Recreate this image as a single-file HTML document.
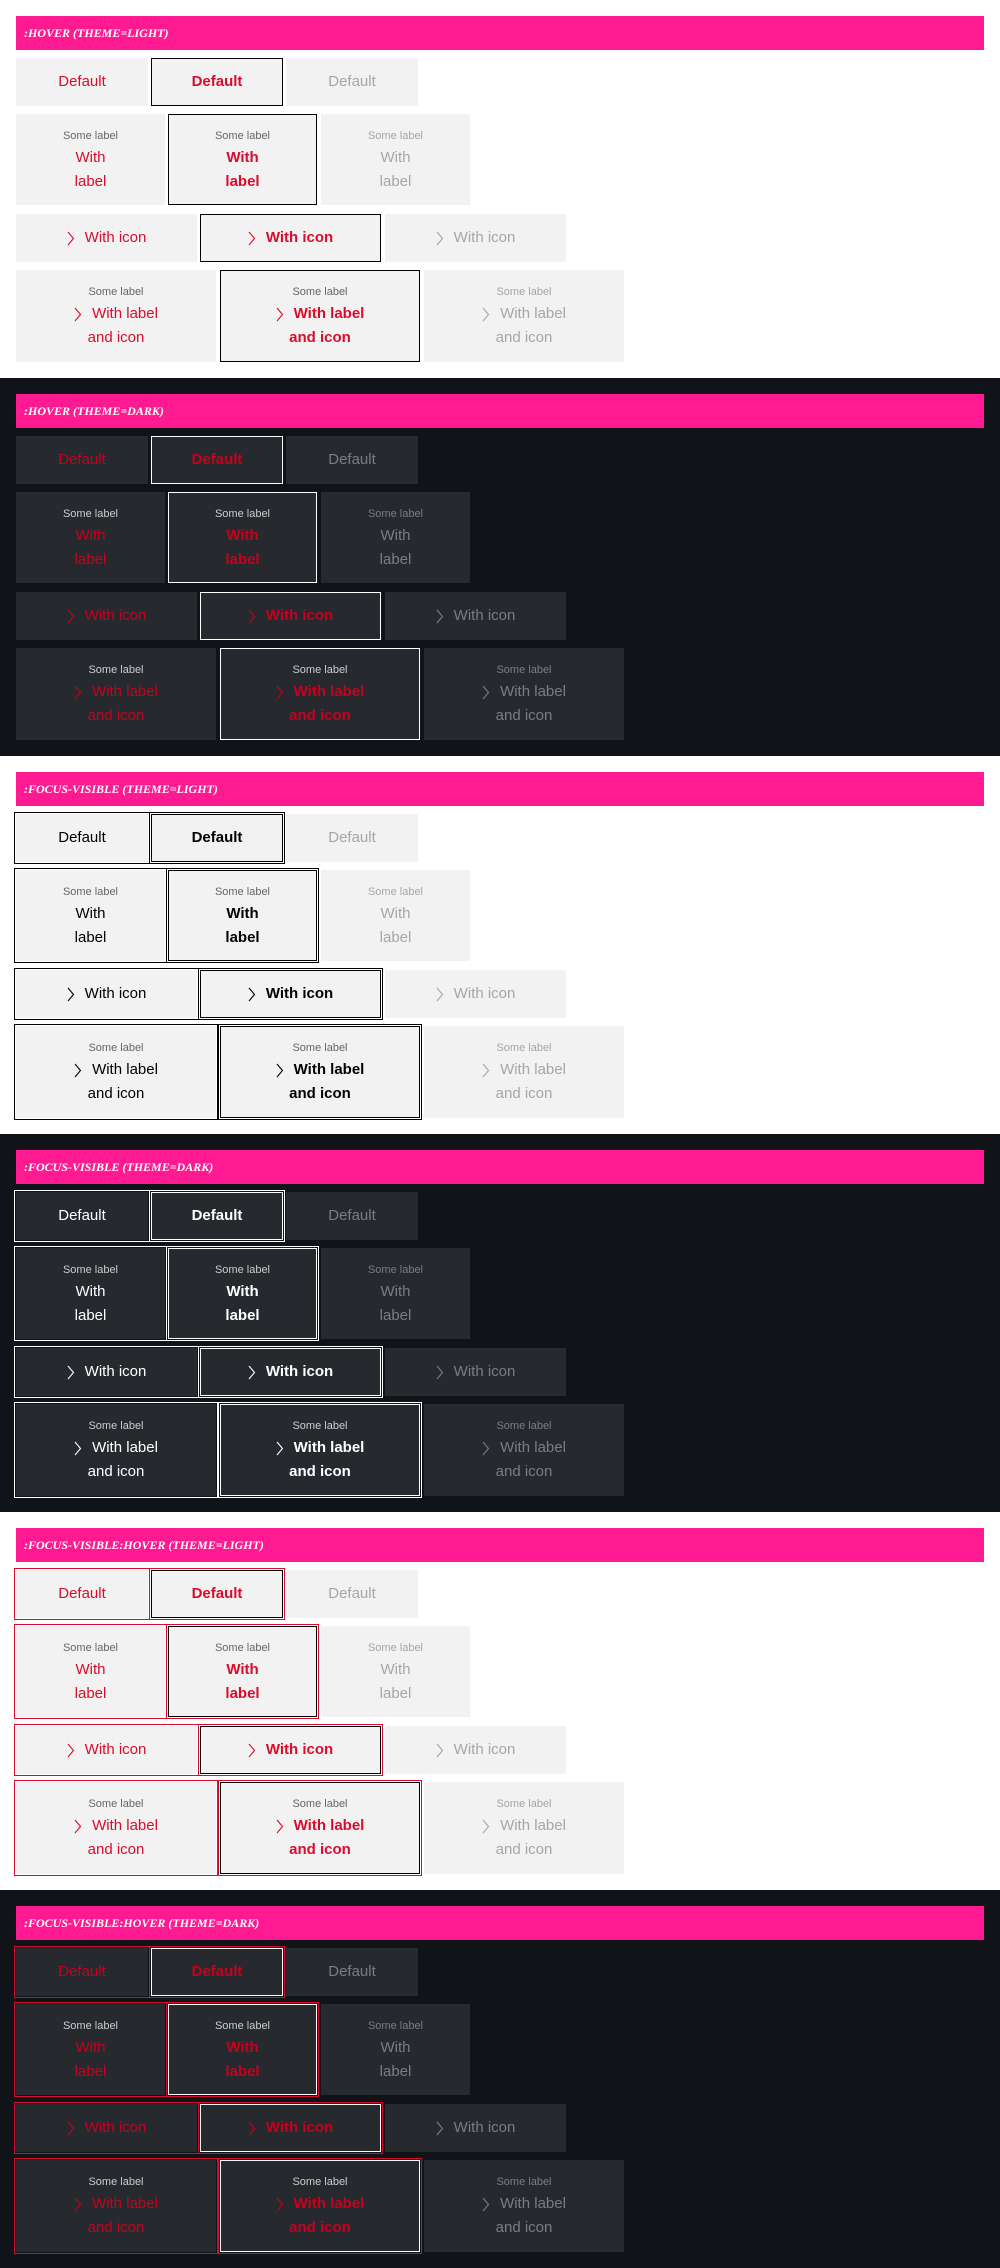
<!DOCTYPE html>
<html><head><meta charset="utf-8"><style>
*{box-sizing:border-box;margin:0;padding:0}
body{width:1000px;height:2268px;overflow:hidden;font-family:"Liberation Sans",sans-serif}
.sec{position:relative;height:378px;width:1000px}
.l{background:#fff}.d{background:#101418}
.hd{position:absolute;left:16px;top:16px;width:968px;height:34px;background:#ff1a92;color:#fff;font-family:"Liberation Serif",serif;font-style:italic;font-weight:bold;font-size:12px;line-height:34px;padding-left:8px;text-transform:uppercase}
.b{position:absolute;display:flex;flex-direction:column;align-items:center;justify-content:center;text-align:center;font-size:15px;line-height:24px}
.l .b{background:#f2f2f2;color:#000}.d .b{background:#262a2e;color:#fff}
.b .s{font-size:11px;line-height:20px;font-weight:normal}
.l .s{color:#666}.d .s{color:#ccc}
.c2{font-weight:bold}
.l .c2{border:1px solid #000}.d .c2{border:1px solid #fff}
.l .c3,.l .c3 .s{color:#a6a6a6}.d .c3,.d .c3 .s{color:#7a7d80}
.l.hov .c1,.l.hov .c2{color:#d90c2c}
.d.hov .c1,.d.hov .c2{color:#c8001e}
.l.foc .c1,.l.foc .c2{outline:1px solid #000;outline-offset:1px}
.d.foc .c1,.d.foc .c2{outline:1px solid #fff;outline-offset:1px}
.foc.hov .c1,.foc.hov .c2{outline-color:#d50c2f}
.r1{top:58px;height:48px;width:132px}
.r2{top:114px;height:91px;width:149px}
.r3{top:214px;height:48px;width:181px}
.r4{top:270px;height:92px;width:200px}
.r1.c1,.r2.c1,.r3.c1,.r4.c1{left:16px}
.r1.c2{left:151px}.r1.c3{left:286px}
.r2.c2{left:168px}.r2.c3{left:321px}
.r3.c2{left:200px}.r3.c3{left:385px}
.r4.c2{left:220px}.r4.c3{left:424px}
.ln{display:flex;align-items:center;justify-content:center}
svg{width:8px;height:15px;margin-right:10px;flex:none}
</style></head><body>

<div class="sec l hov"><div class="hd">:hover (theme=light)</div>
<div class="b r1 c1">Default</div><div class="b r1 c2">Default</div><div class="b r1 c3">Default</div>
<div class="b r2 c1"><div class="s">Some label</div><div>With</div><div>label</div></div><div class="b r2 c2"><div class="s">Some label</div><div>With</div><div>label</div></div><div class="b r2 c3"><div class="s">Some label</div><div>With</div><div>label</div></div>
<div class="b r3 c1"><div class="ln"><svg viewBox="0 0 8 15"><polyline points="1,1 6.5,7.5 1,14" fill="none" stroke="currentColor" stroke-width="1.1"/></svg>With icon</div></div><div class="b r3 c2"><div class="ln"><svg viewBox="0 0 8 15"><polyline points="1,1 6.5,7.5 1,14" fill="none" stroke="currentColor" stroke-width="1.1"/></svg>With icon</div></div><div class="b r3 c3"><div class="ln"><svg viewBox="0 0 8 15"><polyline points="1,1 6.5,7.5 1,14" fill="none" stroke="currentColor" stroke-width="1.1"/></svg>With icon</div></div>
<div class="b r4 c1"><div class="s">Some label</div><div class="ln"><svg viewBox="0 0 8 15"><polyline points="1,1 6.5,7.5 1,14" fill="none" stroke="currentColor" stroke-width="1.1"/></svg>With label</div><div>and icon</div></div><div class="b r4 c2"><div class="s">Some label</div><div class="ln"><svg viewBox="0 0 8 15"><polyline points="1,1 6.5,7.5 1,14" fill="none" stroke="currentColor" stroke-width="1.1"/></svg>With label</div><div>and icon</div></div><div class="b r4 c3"><div class="s">Some label</div><div class="ln"><svg viewBox="0 0 8 15"><polyline points="1,1 6.5,7.5 1,14" fill="none" stroke="currentColor" stroke-width="1.1"/></svg>With label</div><div>and icon</div></div>
</div>

<div class="sec d hov"><div class="hd">:hover (theme=dark)</div>
<div class="b r1 c1">Default</div><div class="b r1 c2">Default</div><div class="b r1 c3">Default</div>
<div class="b r2 c1"><div class="s">Some label</div><div>With</div><div>label</div></div><div class="b r2 c2"><div class="s">Some label</div><div>With</div><div>label</div></div><div class="b r2 c3"><div class="s">Some label</div><div>With</div><div>label</div></div>
<div class="b r3 c1"><div class="ln"><svg viewBox="0 0 8 15"><polyline points="1,1 6.5,7.5 1,14" fill="none" stroke="currentColor" stroke-width="1.1"/></svg>With icon</div></div><div class="b r3 c2"><div class="ln"><svg viewBox="0 0 8 15"><polyline points="1,1 6.5,7.5 1,14" fill="none" stroke="currentColor" stroke-width="1.1"/></svg>With icon</div></div><div class="b r3 c3"><div class="ln"><svg viewBox="0 0 8 15"><polyline points="1,1 6.5,7.5 1,14" fill="none" stroke="currentColor" stroke-width="1.1"/></svg>With icon</div></div>
<div class="b r4 c1"><div class="s">Some label</div><div class="ln"><svg viewBox="0 0 8 15"><polyline points="1,1 6.5,7.5 1,14" fill="none" stroke="currentColor" stroke-width="1.1"/></svg>With label</div><div>and icon</div></div><div class="b r4 c2"><div class="s">Some label</div><div class="ln"><svg viewBox="0 0 8 15"><polyline points="1,1 6.5,7.5 1,14" fill="none" stroke="currentColor" stroke-width="1.1"/></svg>With label</div><div>and icon</div></div><div class="b r4 c3"><div class="s">Some label</div><div class="ln"><svg viewBox="0 0 8 15"><polyline points="1,1 6.5,7.5 1,14" fill="none" stroke="currentColor" stroke-width="1.1"/></svg>With label</div><div>and icon</div></div>
</div>

<div class="sec l foc"><div class="hd">:focus-visible (theme=light)</div>
<div class="b r1 c1">Default</div><div class="b r1 c2">Default</div><div class="b r1 c3">Default</div>
<div class="b r2 c1"><div class="s">Some label</div><div>With</div><div>label</div></div><div class="b r2 c2"><div class="s">Some label</div><div>With</div><div>label</div></div><div class="b r2 c3"><div class="s">Some label</div><div>With</div><div>label</div></div>
<div class="b r3 c1"><div class="ln"><svg viewBox="0 0 8 15"><polyline points="1,1 6.5,7.5 1,14" fill="none" stroke="currentColor" stroke-width="1.1"/></svg>With icon</div></div><div class="b r3 c2"><div class="ln"><svg viewBox="0 0 8 15"><polyline points="1,1 6.5,7.5 1,14" fill="none" stroke="currentColor" stroke-width="1.1"/></svg>With icon</div></div><div class="b r3 c3"><div class="ln"><svg viewBox="0 0 8 15"><polyline points="1,1 6.5,7.5 1,14" fill="none" stroke="currentColor" stroke-width="1.1"/></svg>With icon</div></div>
<div class="b r4 c1"><div class="s">Some label</div><div class="ln"><svg viewBox="0 0 8 15"><polyline points="1,1 6.5,7.5 1,14" fill="none" stroke="currentColor" stroke-width="1.1"/></svg>With label</div><div>and icon</div></div><div class="b r4 c2"><div class="s">Some label</div><div class="ln"><svg viewBox="0 0 8 15"><polyline points="1,1 6.5,7.5 1,14" fill="none" stroke="currentColor" stroke-width="1.1"/></svg>With label</div><div>and icon</div></div><div class="b r4 c3"><div class="s">Some label</div><div class="ln"><svg viewBox="0 0 8 15"><polyline points="1,1 6.5,7.5 1,14" fill="none" stroke="currentColor" stroke-width="1.1"/></svg>With label</div><div>and icon</div></div>
</div>

<div class="sec d foc"><div class="hd">:focus-visible (theme=dark)</div>
<div class="b r1 c1">Default</div><div class="b r1 c2">Default</div><div class="b r1 c3">Default</div>
<div class="b r2 c1"><div class="s">Some label</div><div>With</div><div>label</div></div><div class="b r2 c2"><div class="s">Some label</div><div>With</div><div>label</div></div><div class="b r2 c3"><div class="s">Some label</div><div>With</div><div>label</div></div>
<div class="b r3 c1"><div class="ln"><svg viewBox="0 0 8 15"><polyline points="1,1 6.5,7.5 1,14" fill="none" stroke="currentColor" stroke-width="1.1"/></svg>With icon</div></div><div class="b r3 c2"><div class="ln"><svg viewBox="0 0 8 15"><polyline points="1,1 6.5,7.5 1,14" fill="none" stroke="currentColor" stroke-width="1.1"/></svg>With icon</div></div><div class="b r3 c3"><div class="ln"><svg viewBox="0 0 8 15"><polyline points="1,1 6.5,7.5 1,14" fill="none" stroke="currentColor" stroke-width="1.1"/></svg>With icon</div></div>
<div class="b r4 c1"><div class="s">Some label</div><div class="ln"><svg viewBox="0 0 8 15"><polyline points="1,1 6.5,7.5 1,14" fill="none" stroke="currentColor" stroke-width="1.1"/></svg>With label</div><div>and icon</div></div><div class="b r4 c2"><div class="s">Some label</div><div class="ln"><svg viewBox="0 0 8 15"><polyline points="1,1 6.5,7.5 1,14" fill="none" stroke="currentColor" stroke-width="1.1"/></svg>With label</div><div>and icon</div></div><div class="b r4 c3"><div class="s">Some label</div><div class="ln"><svg viewBox="0 0 8 15"><polyline points="1,1 6.5,7.5 1,14" fill="none" stroke="currentColor" stroke-width="1.1"/></svg>With label</div><div>and icon</div></div>
</div>

<div class="sec l foc hov"><div class="hd">:focus-visible:hover (theme=light)</div>
<div class="b r1 c1">Default</div><div class="b r1 c2">Default</div><div class="b r1 c3">Default</div>
<div class="b r2 c1"><div class="s">Some label</div><div>With</div><div>label</div></div><div class="b r2 c2"><div class="s">Some label</div><div>With</div><div>label</div></div><div class="b r2 c3"><div class="s">Some label</div><div>With</div><div>label</div></div>
<div class="b r3 c1"><div class="ln"><svg viewBox="0 0 8 15"><polyline points="1,1 6.5,7.5 1,14" fill="none" stroke="currentColor" stroke-width="1.1"/></svg>With icon</div></div><div class="b r3 c2"><div class="ln"><svg viewBox="0 0 8 15"><polyline points="1,1 6.5,7.5 1,14" fill="none" stroke="currentColor" stroke-width="1.1"/></svg>With icon</div></div><div class="b r3 c3"><div class="ln"><svg viewBox="0 0 8 15"><polyline points="1,1 6.5,7.5 1,14" fill="none" stroke="currentColor" stroke-width="1.1"/></svg>With icon</div></div>
<div class="b r4 c1"><div class="s">Some label</div><div class="ln"><svg viewBox="0 0 8 15"><polyline points="1,1 6.5,7.5 1,14" fill="none" stroke="currentColor" stroke-width="1.1"/></svg>With label</div><div>and icon</div></div><div class="b r4 c2"><div class="s">Some label</div><div class="ln"><svg viewBox="0 0 8 15"><polyline points="1,1 6.5,7.5 1,14" fill="none" stroke="currentColor" stroke-width="1.1"/></svg>With label</div><div>and icon</div></div><div class="b r4 c3"><div class="s">Some label</div><div class="ln"><svg viewBox="0 0 8 15"><polyline points="1,1 6.5,7.5 1,14" fill="none" stroke="currentColor" stroke-width="1.1"/></svg>With label</div><div>and icon</div></div>
</div>

<div class="sec d foc hov"><div class="hd">:focus-visible:hover (theme=dark)</div>
<div class="b r1 c1">Default</div><div class="b r1 c2">Default</div><div class="b r1 c3">Default</div>
<div class="b r2 c1"><div class="s">Some label</div><div>With</div><div>label</div></div><div class="b r2 c2"><div class="s">Some label</div><div>With</div><div>label</div></div><div class="b r2 c3"><div class="s">Some label</div><div>With</div><div>label</div></div>
<div class="b r3 c1"><div class="ln"><svg viewBox="0 0 8 15"><polyline points="1,1 6.5,7.5 1,14" fill="none" stroke="currentColor" stroke-width="1.1"/></svg>With icon</div></div><div class="b r3 c2"><div class="ln"><svg viewBox="0 0 8 15"><polyline points="1,1 6.5,7.5 1,14" fill="none" stroke="currentColor" stroke-width="1.1"/></svg>With icon</div></div><div class="b r3 c3"><div class="ln"><svg viewBox="0 0 8 15"><polyline points="1,1 6.5,7.5 1,14" fill="none" stroke="currentColor" stroke-width="1.1"/></svg>With icon</div></div>
<div class="b r4 c1"><div class="s">Some label</div><div class="ln"><svg viewBox="0 0 8 15"><polyline points="1,1 6.5,7.5 1,14" fill="none" stroke="currentColor" stroke-width="1.1"/></svg>With label</div><div>and icon</div></div><div class="b r4 c2"><div class="s">Some label</div><div class="ln"><svg viewBox="0 0 8 15"><polyline points="1,1 6.5,7.5 1,14" fill="none" stroke="currentColor" stroke-width="1.1"/></svg>With label</div><div>and icon</div></div><div class="b r4 c3"><div class="s">Some label</div><div class="ln"><svg viewBox="0 0 8 15"><polyline points="1,1 6.5,7.5 1,14" fill="none" stroke="currentColor" stroke-width="1.1"/></svg>With label</div><div>and icon</div></div>
</div>

</body></html>
